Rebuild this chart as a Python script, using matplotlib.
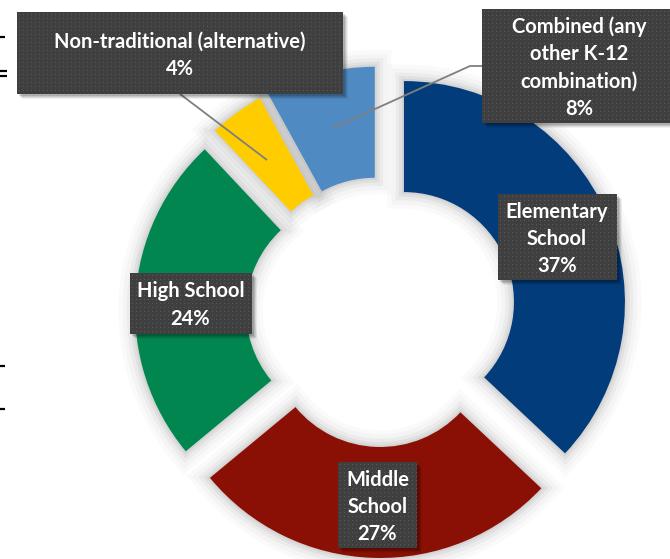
import numpy as np
import matplotlib
matplotlib.use("Agg")
import matplotlib.pyplot as plt
from matplotlib import patheffects as pe
from matplotlib.patches import Rectangle

# School type shares (percent), clockwise from 12 o'clock
categories = ["Elementary\nSchool", "Middle\nSchool", "High School",
              "Non-traditional (alternative)",
              "Combined (any\nother K-12\ncombination)"]
shares = [37, 27, 24, 4, 8]
colors = ["#023C7B", "#8A1005", "#018650", "#FFCC00", "#4F8AC3"]

W, H = 670, 559
fig = plt.figure(figsize=(W / 100, H / 100), dpi=100)
ax = fig.add_axes([0, 0, 1, 1])

center = (381, 312)
radius = 221
ring = 111
explode = [25] * len(shares)

# soft glow underneath the ring segments
glow = [pe.Stroke(linewidth=lw, foreground="#000000", alpha=a)
        for lw, a in [(24, 0.02), (18, 0.025), (12, 0.035), (7, 0.045), (3, 0.05)]]
shadow_wedges, _ = ax.pie(shares, center=center, radius=radius, explode=explode,
                          startangle=-90, counterclock=True,
                          wedgeprops=dict(width=ring, facecolor="white",
                                          edgecolor="none", zorder=1))
for w in shadow_wedges:
    w.set_path_effects(glow)

wedges, _ = ax.pie(shares, center=center, radius=radius, explode=explode,
                   startangle=-90, counterclock=True, colors=colors,
                   wedgeprops=dict(width=ring, edgecolor="none", zorder=2))

# label boxes: (x0, y0, x1, y1) and text centre
boxes = [
    ((498, 194, 617, 280), (557, 239)),
    ((338, 462, 417, 548), (377.5, 507)),
    ((130, 273, 252, 334), (190.5, 305)),
    ((17, 12, 343, 94), (180, 55)),
    ((482, 9, 672, 123), (579, 67.5)),
]

# leader lines
ax.plot([180, 267], [94, 160], color="#7F7F7F", lw=1.3, zorder=4,
        solid_capstyle="butt")
ax.plot([482, 470, 333], [66, 66, 128], color="#7F7F7F", lw=1.3, zorder=4,
        solid_capstyle="butt")


def dotted_box(x0, y0, x1, y1):
    for off, a in [(5, 0.06), (4, 0.08), (3, 0.10), (2, 0.12)]:
        ax.add_patch(Rectangle((x0 + off, y0 + off), x1 - x0, y1 - y0,
                               facecolor="black", edgecolor="none",
                               alpha=a, zorder=5))
    w = int(round(x1 - x0))
    h = int(round(y1 - y0))
    img = np.full((h, w, 3), 0.25)
    img[2::4, 2::4] = 0.35
    ax.imshow(img, extent=(x0, x1, y1, y0), interpolation="nearest",
              zorder=6, aspect="auto")


for (bx, (tx, ty)), name, val in zip(boxes, categories, shares):
    dotted_box(*bx)
    ax.text(tx, ty, f"{name}\n{val}%", ha="center", va="center",
            color="white", fontsize=14.5, fontweight="bold", family="Lato",
            linespacing=1.45, zorder=7)

# stray tick marks along the left edge
for y0, x1 in [(37, 5), (71, 7), (76, 7), (366, 5), (409, 5)]:
    ax.plot([0, x1], [y0, y0], color="black", lw=1.6, zorder=3,
            solid_capstyle="butt")

ax.set_xlim(0, W)
ax.set_ylim(H, 0)
ax.set_aspect("auto")
ax.axis("off")
fig.savefig("out.png", dpi=100)
